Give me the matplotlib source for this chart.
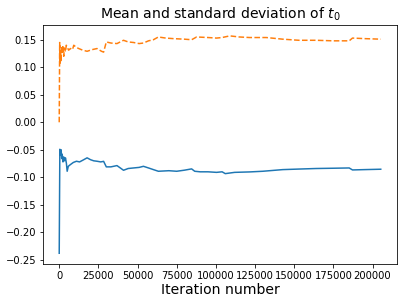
import matplotlib
matplotlib.use("Agg")
import matplotlib.pyplot as plt

# Running mean of t0
mean_iter = [0, 400, 800, 1200, 1600, 1900, 2400, 2900, 3400, 4000, 4600, 5080, 5800,
             7180, 9000, 11000, 13000, 15000, 17800, 20000, 22000, 24150, 26500, 28340,
             30060, 33000, 36860, 39000, 41050, 44000, 47410, 51000, 53760, 57000, 60120,
             63300, 70000, 75000, 80000, 84520, 86500, 90000, 95000, 100410, 104000,
             106000, 112000, 121570, 130000, 142730, 153000, 163960, 175000, 185120,
             187220, 195000, 205260]
mean_val = [-0.238, -0.049, -0.060, -0.050, -0.066, -0.058, -0.072, -0.063, -0.070, -0.0646,
            -0.075, -0.089, -0.080, -0.0768, -0.073, -0.0708, -0.072, -0.069, -0.0646,
            -0.068, -0.070, -0.0708, -0.072, -0.071, -0.081, -0.081, -0.0787, -0.083,
            -0.0872, -0.084, -0.083, -0.082, -0.080, -0.083, -0.086, -0.089, -0.088,
            -0.089, -0.087, -0.0847, -0.089, -0.090, -0.090, -0.091, -0.090, -0.0933,
            -0.091, -0.0902, -0.089, -0.086, -0.085, -0.084, -0.0835, -0.083, -0.0866,
            -0.086, -0.0853]

# Running standard deviation of t0
std_iter = [0, 300, 600, 900, 1200, 1500, 1900, 2300, 2900, 3300, 4000, 4500, 5080, 6000,
            7180, 8500, 9280, 11000, 12460, 15000, 17800, 21000, 24150, 27000, 28340,
            30060, 33000, 36860, 41050, 44000, 47410, 51000, 53760, 57000, 60120, 63300,
            68000, 72830, 80000, 84520, 87700, 95000, 100410, 104000, 108860, 115000,
            121570, 132180, 142730, 153000, 163960, 175000, 185120, 187220, 195000, 205260]
std_val = [0.0, 0.145, 0.105, 0.130, 0.110, 0.138, 0.125, 0.140, 0.120, 0.135, 0.128, 0.140,
           0.137, 0.131, 0.134, 0.132, 0.140, 0.136, 0.134, 0.131, 0.129, 0.132, 0.134,
           0.129, 0.1275, 0.146, 0.144, 0.143, 0.149, 0.146, 0.145, 0.143, 0.144, 0.148,
           0.150, 0.155, 0.153, 0.152, 0.151, 0.150, 0.155, 0.154, 0.153, 0.154, 0.157,
           0.155, 0.154, 0.154, 0.151, 0.149, 0.149, 0.148, 0.148, 0.153, 0.152, 0.151]

title = "Mean and standard deviation of $t_0$"
xlabel = "Iteration number"

fig = plt.figure(figsize=(407 / 72, 305 / 72), dpi=72)
ax = fig.add_subplot(111)
fig.subplots_adjust(left=0.106, right=0.975, top=0.918, bottom=0.134)
ax.plot(mean_iter, mean_val, color="#1f77b4", linewidth=1.5)
ax.plot(std_iter, std_val, color="#ff7f0e", linewidth=1.5, linestyle="--")
ax.set_title(title, fontsize=14)
ax.set_xlabel(xlabel, fontsize=14, labelpad=2)
ax.set_yticks([-0.25, -0.20, -0.15, -0.10, -0.05, 0.00, 0.05, 0.10, 0.15])
ax.set_xticks([0, 25000, 50000, 75000, 100000, 125000, 150000, 175000, 200000])
fig.savefig("out.png", dpi=72)
